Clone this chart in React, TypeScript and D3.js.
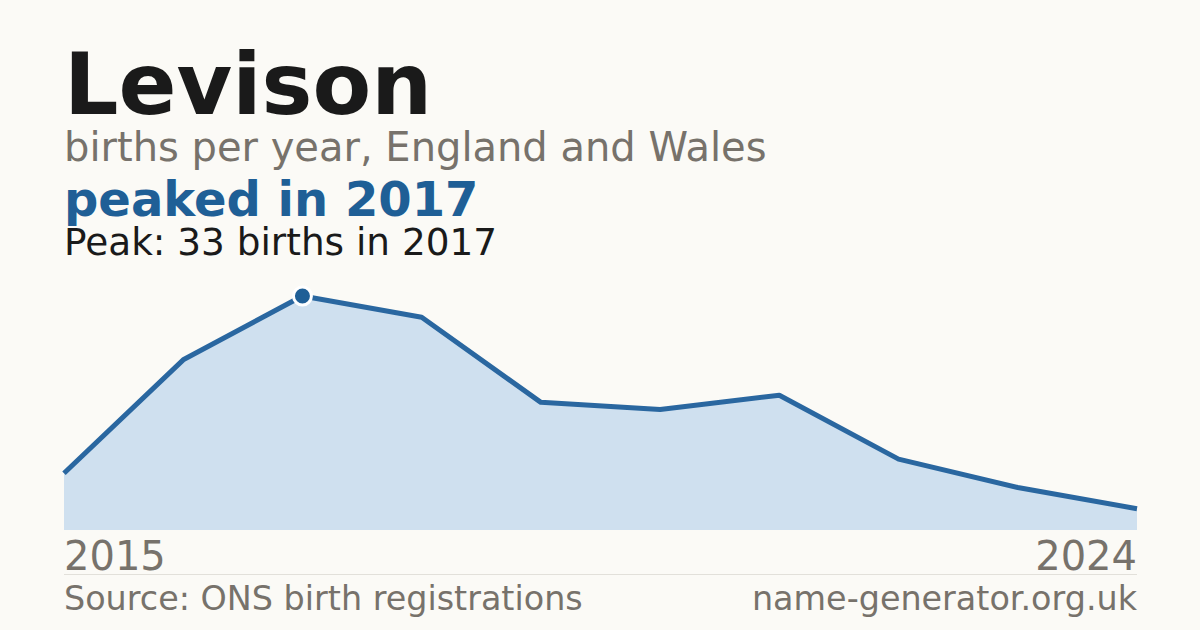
import * as d3 from 'd3';

const years = [2015, 2016, 2017, 2018, 2019, 2020, 2021, 2022, 2023, 2024];
const births = [8, 24, 33, 30, 18, 17, 19, 10, 6, 3];
const title = 'Levison';
const subtitle = 'births per year, England and Wales';
const headline = 'peaked in 2017';
const note = 'Peak: 33 births in 2017';
const source = 'Source: ONS birth registrations';
const site = 'name-generator.org.uk';

const W = 1200;
const H = 630;
const left = 64;
const right = 1137;
const top = 296;
const bottom = 530;

export default function App() {
  const x = d3.scaleLinear().domain([years[0], years[years.length - 1]]).range([left, right]);
  const y = d3.scaleLinear().domain([0, d3.max(births) || 1]).range([bottom, top]);

  const pts = years.map((yr, i) => [yr, births[i]] as [number, number]);
  const area = d3.area<[number, number]>().x(d => x(d[0])).y0(bottom).y1(d => y(d[1]))(pts) || '';
  const line = d3.line<[number, number]>().x(d => x(d[0])).y(d => y(d[1]))(pts) || '';

  const peakIdx = births.indexOf(d3.max(births) || 0);
  const font = '"DejaVu Sans", sans-serif';

  return (
    <svg width={W} height={H} style={{ position: 'absolute', left: 0, top: 0 }} fontFamily={font}>
      <rect width={W} height={H} fill="#fbfaf6" />
      <text x={64} y={114} fontSize={85.5} fontWeight="bold" fill="#1a1a1a">{title}</text>
      <text x={64} y={161} fontSize={40} fill="#77726b">{subtitle}</text>
      <text x={64} y={216} fontSize={48} fontWeight="bold" fill="#1f5f96">{headline}</text>
      <text x={64} y={255} fontSize={37.4} fill="#1a1a1a">{note}</text>

      <path d={area} fill="#cfe0ef" />
      <path d={line} fill="none" stroke="#2a67a0" strokeWidth={5} strokeLinejoin="round" />
      <circle cx={x(years[peakIdx])} cy={y(births[peakIdx])} r={9} fill="#1f5f96" stroke="#ffffff" strokeWidth={3} />

      <text x={left} y={570} fontSize={40} fill="#77726b">{years[0]}</text>
      <text x={right} y={570} fontSize={40} fill="#77726b" textAnchor="end">{years[years.length - 1]}</text>
      <line x1={left} x2={right} y1={574.5} y2={574.5} stroke="#e2e0da" strokeWidth={1} />
      <text x={left} y={610} fontSize={33.4} fill="#77726b">{source}</text>
      <text x={right} y={610} fontSize={33.4} fill="#77726b" textAnchor="end">{site}</text>
    </svg>
  );
}
